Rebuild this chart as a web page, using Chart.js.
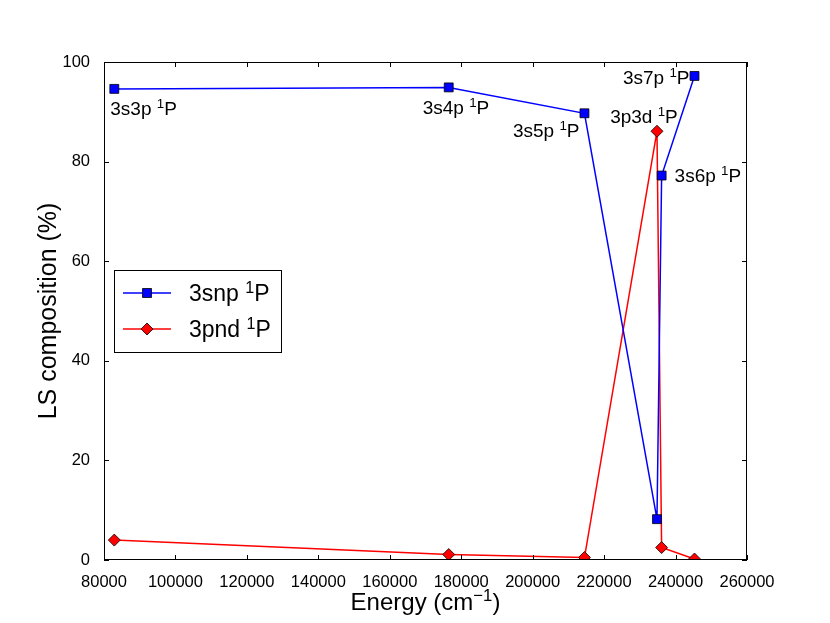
<!DOCTYPE html>
<html lang="en">
<head>
    <meta charset="UTF-8">
    <title>LS composition</title>
    <script src="https://cdn.jsdelivr.net/npm/chart.js@4.4.0/dist/chart.umd.min.js"></script>
    <style>
        html, body {
            margin: 0;
            padding: 0;
            background: #fff;
        }
        .chart-box {
            width: 830px;
            height: 623px;
        }
    </style>
</head>
<body>
    <div class="chart-box">
        <canvas id="lsChart"></canvas>
    </div>

    <script>
        // Energy levels (cm^-1) and LS composition (%)
        const energies = [82884, 176500, 214500, 234800, 236100, 245300];
        const snpValues = [94.6, 94.9, 89.7, 8.2, 77.2, 97.2];
        const pndValues = [4.0, 1.1, 0.5, 86.1, 2.5, 0.2];
        // '^x' or '^{..}' marks a superscript
        const seriesNames = ['3snp ^1P', '3pnd ^1P'];

        // level labels: which series/point they belong to
        const levelLabels = ['3s3p ^1P', '3s4p ^1P', '3s5p ^1P', '3p3d ^1P', '3s6p ^1P', '3s7p ^1P'];
        const labelSeries = [0, 0, 0, 1, 0, 0];
        const labelPoint = [0, 1, 2, 3, 4, 5];

        const xTicks = [80000, 100000, 120000, 140000, 160000, 180000, 200000, 220000, 240000, 260000];
        const yTicks = [0, 20, 40, 60, 80, 100];
        const xTitle = 'Energy (cm^{\u22121})';
        const yTitle = 'LS composition (%)';

        const FONT = '"Liberation Sans", Arial, Helvetica, sans-serif';

        // offsets of the level labels from their markers (px)
        const labelStyle = [
            { dx: -4, dy: 19, align: 'left' },
            { dx: -26, dy: 20, align: 'left' },
            { dx: -5, dy: 17, align: 'right' },
            { dx: -13, dy: -15, align: 'center' },
            { dx: 13, dy: 0, align: 'left' },
            { dx: -5, dy: 1, align: 'right' }
        ];

        function toPoints(ys) {
            return energies.map((x, i) => ({ x: x, y: ys[i] }));
        }

        // text with simple superscripts, vertically centred on y
        function drawRich(ctx, str, x, y, align, size) {
            const parts = [];
            for (let i = 0; i < str.length; i++) {
                if (str[i] === '^') {
                    if (str[i + 1] === '{') {
                        const end = str.indexOf('}', i);
                        parts.push({ t: str.slice(i + 2, end), sup: true });
                        i = end;
                    } else {
                        parts.push({ t: str[i + 1], sup: true });
                        i++;
                    }
                } else if (parts.length && !parts[parts.length - 1].sup) {
                    parts[parts.length - 1].t += str[i];
                } else {
                    parts.push({ t: str[i], sup: false });
                }
            }
            const supSize = size * 0.7;
            let w = 0;
            parts.forEach(p => {
                ctx.font = (p.sup ? supSize : size) + 'px ' + FONT;
                p.w = ctx.measureText(p.t).width;
                w += p.w;
            });
            let cx = align === 'left' ? x : align === 'right' ? x - w : x - w / 2;
            ctx.textAlign = 'left';
            ctx.textBaseline = 'alphabetic';
            const base = y + size * 0.36;
            parts.forEach(p => {
                ctx.font = (p.sup ? supSize : size) + 'px ' + FONT;
                ctx.fillText(p.t, cx, p.sup ? base - size * 0.38 : base);
                cx += p.w;
            });
        }

        // inward ticks on all four sides + black frame, level labels, legend box
        const decorations = {
            id: 'decorations',
            afterDatasetsDraw(chart) {
                const ctx = chart.ctx;
                const a = chart.chartArea;
                const xs = chart.scales.x;
                const ys = chart.scales.y;
                const tl = 5;

                ctx.save();
                ctx.strokeStyle = '#000';
                ctx.lineWidth = 1;
                ctx.beginPath();
                xTicks.forEach(v => {
                    const px = Math.round(xs.getPixelForValue(v)) + 0.5;
                    ctx.moveTo(px, a.bottom); ctx.lineTo(px, a.bottom - tl);
                    ctx.moveTo(px, a.top); ctx.lineTo(px, a.top + tl);
                });
                yTicks.forEach(v => {
                    const py = Math.round(ys.getPixelForValue(v)) + 0.5;
                    ctx.moveTo(a.left, py); ctx.lineTo(a.left + tl, py);
                    ctx.moveTo(a.right, py); ctx.lineTo(a.right - tl, py);
                });
                ctx.stroke();
                ctx.strokeRect(a.left + 0.5, a.top + 0.5, a.right - a.left - 1, a.bottom - a.top - 1);

                // x axis title (drawn here to get a proper superscript)
                ctx.fillStyle = '#000';
                drawRich(ctx, xTitle, (a.left + a.right) / 2, xs.bottom - 22, 'center', 24);

                // level labels
                levelLabels.forEach((txt, i) => {
                    const el = chart.getDatasetMeta(labelSeries[i]).data[labelPoint[i]];
                    const s = labelStyle[i];
                    drawRich(ctx, txt, el.x + s.dx, el.y + s.dy, s.align, 19);
                });

                // legend inside the axes
                const lx = a.left + 10, ly = a.top + 208, lw = 167, lh = 82;
                ctx.fillStyle = '#fff';
                ctx.fillRect(lx, ly, lw, lh);
                ctx.strokeStyle = '#000';
                ctx.lineWidth = 1;
                ctx.strokeRect(lx + 0.5, ly + 0.5, lw, lh);
                const rows = [ly + 23, ly + 59];
                chart.data.datasets.forEach((ds, i) => {
                    const y = rows[i];
                    ctx.strokeStyle = ds.borderColor;
                    ctx.lineWidth = 1.5;
                    ctx.beginPath();
                    ctx.moveTo(lx + 9, y); ctx.lineTo(lx + 57, y);
                    ctx.stroke();
                    ctx.fillStyle = ds.pointBackgroundColor;
                    ctx.strokeStyle = '#000';
                    ctx.lineWidth = 0.8;
                    ctx.beginPath();
                    if (ds.pointStyle === 'rect') {
                        ctx.rect(lx + 33 - 4.5, y - 4.5, 9, 9);
                    } else {
                        ctx.moveTo(lx + 33, y - 6); ctx.lineTo(lx + 39, y);
                        ctx.lineTo(lx + 33, y + 6); ctx.lineTo(lx + 27, y);
                        ctx.closePath();
                    }
                    ctx.fill(); ctx.stroke();
                    ctx.fillStyle = '#000';
                    drawRich(ctx, ds.label, lx + 75, y, 'left', 23);
                });
                ctx.restore();
            }
        };

        new Chart(document.getElementById('lsChart'), {
            type: 'scatter',
            data: {
                datasets: [{
                    label: seriesNames[0],
                    data: toPoints(snpValues),
                    showLine: true,
                    borderColor: '#0000ff',
                    borderWidth: 1.5,
                    pointStyle: 'rect',
                    pointRadius: 6.3,
                    pointBackgroundColor: '#0000ff',
                    pointBorderColor: '#000',
                    pointBorderWidth: 0.8
                }, {
                    label: seriesNames[1],
                    data: toPoints(pndValues),
                    showLine: true,
                    borderColor: '#ff0000',
                    borderWidth: 1.5,
                    pointStyle: 'rectRot',
                    pointRadius: 6,
                    pointBackgroundColor: '#ff0000',
                    pointBorderColor: '#000',
                    pointBorderWidth: 0.8
                }]
            },
            options: {
                responsive: true,
                maintainAspectRatio: false,
                animation: false,
                layout: { padding: { top: 62, right: 83, bottom: 0, left: 0 } },
                plugins: {
                    legend: { display: false },
                    tooltip: { enabled: false }
                },
                scales: {
                    x: {
                        type: 'linear',
                        min: 80000,
                        max: 260000,
                        afterFit(scale) { scale.height = 63; },
                        afterBuildTicks(scale) { scale.ticks = xTicks.map(v => ({ value: v })); },
                        grid: { display: false },
                        border: { display: false },
                        ticks: {
                            color: '#000',
                            padding: 5,
                            maxRotation: 0,
                            font: { family: FONT, size: 16.5 },
                            callback: v => String(v)
                        },
                        title: { display: false }
                    },
                    y: {
                        min: 0,
                        max: 100,
                        afterFit(scale) { scale.width = 104; },
                        afterBuildTicks(scale) { scale.ticks = yTicks.map(v => ({ value: v })); },
                        grid: { display: false },
                        border: { display: false },
                        ticks: {
                            color: '#000',
                            padding: 6,
                            font: { family: FONT, size: 16.5 },
                            callback: v => String(v)
                        },
                        title: {
                            display: true,
                            text: yTitle,
                            color: '#000',
                            font: { family: FONT, size: 25 },
                            padding: { top: 34, bottom: 0 }
                        }
                    }
                }
            },
            plugins: [decorations]
        });
    </script>
</body>
</html>
